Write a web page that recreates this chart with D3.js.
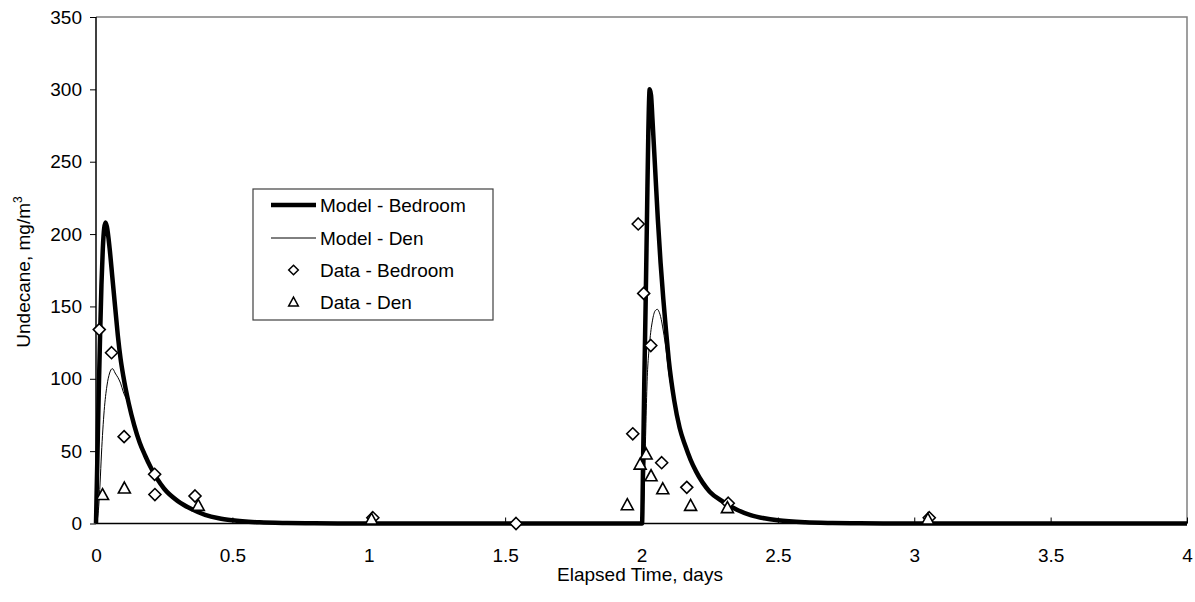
<!DOCTYPE html>
<html lang="en">
<head>
    <title>Undecane</title>
    <script src="https://d3js.org/d3.v7.min.js"></script>
    <style>
        body { margin: 0; background: #fff; }
        text { font-family: "Liberation Sans", Arial, sans-serif; }
    </style>
</head>
<body>
  <svg width=1195 height=602></svg>
    <script>
        // model curves: [days, mg/m3]
        const modelBedroom = [
            [0,0],[0.005,45],[0.01,90],[0.015,130],[0.02,165],[0.025,190],[0.03,204],[0.035,208],
            [0.04,205],[0.05,190],[0.06,170],[0.07,150],[0.08,130],[0.09,114],[0.1,102],[0.12,83],
            [0.14,68],[0.16,56],[0.18,47],[0.2,39],[0.25,24],[0.3,15.5],[0.35,10],[0.4,6],[0.45,3.6],
            [0.5,2.2],[0.6,0.8],[0.7,0.3],[0.8,0.1],[1.0,0],[1.5,0],[2.0,0],
            [2.002,0],[2.006,45],[2.01,95],[2.015,150],[2.02,210],[2.025,270],[2.03,300],[2.035,296],
            [2.04,280],[2.05,245],[2.06,210],[2.07,180],[2.08,155],[2.09,133],[2.1,113],[2.12,85],
            [2.14,66],[2.16,54],[2.18,44],[2.2,36],[2.25,22],[2.3,15],[2.35,9.5],[2.4,5.8],[2.45,3.6],
            [2.5,2.2],[2.6,0.8],[2.7,0.3],[2.8,0.1],[3.0,0],[3.5,0],[4.0,0]
        ];
        const modelDen = [
            [0,0],[0.005,3],[0.01,12],[0.015,28],[0.02,48],[0.03,78],[0.04,95],[0.05,104],[0.06,107],
            [0.065,106],[0.07,104],[0.08,101],[0.09,97],[0.1,91],[0.12,82],[0.14,68],[0.16,56],
            [0.18,47],[0.2,39],[0.25,24],[0.3,15.5],[0.35,10],[0.4,6],[0.45,3.6],[0.5,2.2],[0.6,0.8],
            [0.7,0.3],[0.8,0.1],[1.0,0],[1.5,0],[2.0,0],
            [2.002,0],[2.005,5],[2.01,25],[2.015,60],[2.02,95],[2.03,125],[2.04,140],[2.05,147],
            [2.058,148],[2.065,146],[2.07,143],[2.08,133],[2.09,120],[2.1,104],[2.12,85],[2.14,66],
            [2.16,54],[2.18,44],[2.2,36],[2.25,22],[2.3,15],[2.35,9.5],[2.4,5.8],[2.45,3.6],[2.5,2.2],
            [2.6,0.8],[2.7,0.3],[2.8,0.1],[3.0,0],[3.5,0],[4.0,0]
        ];
        // measurements
        const dataBedroom = [
            [0.012,134],[0.057,118],[0.103,60],[0.215,34],[0.216,20],[0.363,19],[1.015,4],[1.54,0],
            [1.968,62],[1.988,207],[2.008,159],[2.034,123],[2.074,42],[2.166,25],[2.318,14],[3.055,4]
        ];
        const dataDen = [
            [0.024,20],[0.104,24.5],[0.375,12.5],[1.01,3],[1.948,13],[1.995,41],[2.017,48],
            [2.035,33],[2.078,24],[2.18,12.5],[2.315,11],[3.05,3]
        ];
        const xTicks = [0, 0.5, 1, 1.5, 2, 2.5, 3, 3.5, 4];
        const yTicks = [0, 50, 100, 150, 200, 250, 300, 350];
        const legendItems = ["Model - Bedroom", "Model - Den", "Data - Bedroom", "Data - Den"];

        const svg = d3.select("svg");
        const pLeft = 96, pRight = 1187, pTop = 17, pBottom = 523.5;

        const x = d3.scaleLinear().domain([0, 4]).range([pLeft, pRight]);
        const y = d3.scaleLinear().domain([0, 350]).range([pBottom, pTop]);

        // plot frame (grey top/right)
        svg.append("path")
           .attr("d", `M${pLeft},${pTop}H${pRight}V${pBottom}`)
           .attr("fill", "none").attr("stroke", "#808080").attr("stroke-width", 1.5);

        // y axis
        const yAxis = svg.append("g")
           .attr("transform", `translate(${pLeft},0)`)
           .call(d3.axisLeft(y).tickValues(yTicks).tickSize(6).tickPadding(8));
        // x axis, ticks point up into the plot
        const xAxis = svg.append("g")
           .attr("transform", `translate(0,${pBottom})`)
           .call(d3.axisBottom(x).tickValues(xTicks).tickSize(-6).tickPadding(0)
                 .tickFormat(d3.format("")));
        [yAxis, xAxis].forEach(g => {
            g.select(".domain").attr("stroke", "#000").attr("stroke-width", 1.5);
            g.selectAll(".tick line").attr("stroke", "#000");
            g.selectAll("text").attr("font-size", 19).attr("fill", "#000")
             .attr("font-family", "Liberation Sans, Arial, sans-serif");
        });
        xAxis.select(".domain").attr("d", `M${pLeft},0H${pRight}`);
        yAxis.select(".domain").attr("d", `M0,${pTop}V${pBottom}`);
        xAxis.selectAll(".tick text").attr("y", 38).attr("dy", 0);

        // titles
        svg.append("text")
           .attr("x", 640).attr("y", 581)
           .attr("text-anchor", "middle").attr("font-size", 19)
           .text("Elapsed Time, days");
        const yt = svg.append("text")
           .attr("transform", "translate(30,272) rotate(-90)")
           .attr("text-anchor", "middle").attr("font-size", 19);
        yt.append("tspan").text("Undecane, mg/m");
        yt.append("tspan").attr("font-size", 12).attr("dy", -8).text("3");

        // model lines
        const line = d3.line().x(d => x(d[0])).y(d => y(d[1])).curve(d3.curveMonotoneX);
        svg.append("path").datum(modelDen).attr("d", line)
           .attr("fill", "none").attr("stroke", "#000").attr("stroke-width", 1);
        svg.append("path").datum(modelBedroom).attr("d", line)
           .attr("fill", "none").attr("stroke", "#000").attr("stroke-width", 4.5)
           .attr("stroke-linejoin", "round");

        // markers
        const diamond = "M0,-6L6,0L0,6L-6,0Z";
        const triangle = "M0,-6L6,5L-6,5Z";
        svg.append("g").selectAll("path").data(dataBedroom).join("path")
           .attr("d", diamond)
           .attr("transform", d => `translate(${x(d[0])},${y(d[1])})`)
           .attr("fill", "#fff").attr("stroke", "#000").attr("stroke-width", 1.6);
        svg.append("g").selectAll("path").data(dataDen).join("path")
           .attr("d", triangle)
           .attr("transform", d => `translate(${x(d[0])},${y(d[1])})`)
           .attr("fill", "#fff").attr("stroke", "#000").attr("stroke-width", 1.6);

        // legend
        const lg = svg.append("g");
        lg.append("rect").attr("x", 253).attr("y", 189).attr("width", 240).attr("height", 131)
          .attr("fill", "#fff").attr("stroke", "#404040").attr("stroke-width", 1.2);
        const rowY = [205, 238, 270, 302];
        legendItems.forEach((name, i) => {
            const cy = rowY[i];
            if (i < 2) {
                lg.append("line").attr("x1", 271).attr("x2", 316).attr("y1", cy).attr("y2", cy)
                  .attr("stroke", "#000").attr("stroke-width", i === 0 ? 4.5 : 1);
            } else {
                lg.append("path").attr("d", i === 2 ? diamond : triangle)
                  .attr("transform", `translate(293.5,${cy}) scale(0.8)`)
                  .attr("fill", "#fff").attr("stroke", "#000").attr("stroke-width", 1.9);
            }
            lg.append("text").attr("x", 320).attr("y", cy + 7).attr("font-size", 19).text(name);
        });
    </script>
</body>
</html>
